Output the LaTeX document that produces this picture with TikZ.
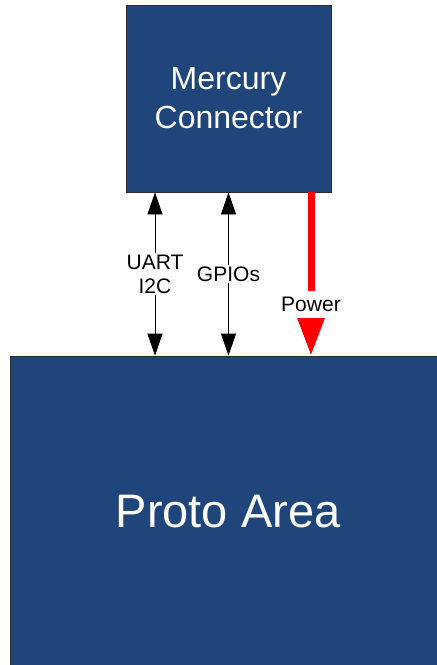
\documentclass[tikz,border=0pt]{standalone}
\usepackage{fontspec}
\setmainfont{Liberation Sans}
\usetikzlibrary{arrows.meta}
\definecolor{boxblue}{RGB}{31,69,122}
\definecolor{boxedge}{RGB}{45,45,45}

\begin{document}
\begin{tikzpicture}[x=1pt,y=-1pt,
    blk/.style={draw=boxedge,line width=0.8pt,fill=boxblue,text=white,inner sep=0pt,align=center},
    sig/.style={line width=0.8pt,{Triangle[width=15pt,length=22pt]}-{Triangle[width=15pt,length=22pt]}},
    pwr/.style={red,line width=7pt,-{Triangle[width=26pt,length=38pt]}},
    lbl/.style={fill=white,inner sep=1.5pt,align=center,font=\fontsize{21}{24}\selectfont}]
      \useasboundingbox (0,0) rectangle (437,665) ;
      \clip (0,0) rectangle (437,665) ;
      \node[blk,minimum width=205pt,minimum height=187pt,font=\fontsize{32}{39}\selectfont] %
      (merc) at (228.5,98.5) {Mercury\\Connector} ;
      \node[blk,minimum width=436pt,minimum height=312pt,font=\fontsize{47}{56}\selectfont] %
      (proto) at (228,512) {Proto Area} ;
      \draw[sig] ([xshift=-73.5pt]merc.south) -- ([xshift=-73.5pt]merc.south |- proto.north) %
      node[lbl,midway] {UART\\I2C} ;
      \draw[sig] (merc.south) -- (merc.south |- proto.north) node[lbl,midway] {GPIOs} ;
      \draw[pwr] ([xshift=82.5pt]merc.south) -- ([xshift=82.5pt]merc.south |- proto.north) %
      node[lbl,text=black,inner ysep=6pt,pos=0.686] {Power} ;
    \end{tikzpicture}
\end{document}
